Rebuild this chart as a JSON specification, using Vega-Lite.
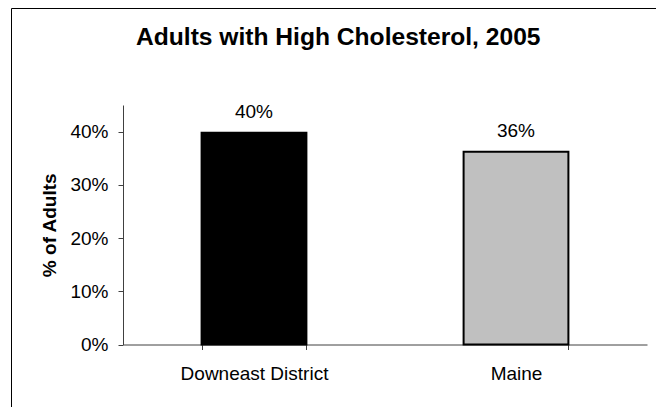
{
  "$schema": "https://vega.github.io/schema/vega-lite/v6.json",
  "width": 645,
  "height": 399,
  "autosize": {"type": "none"},
  "padding": {"left": 11, "top": 8, "right": 0, "bottom": 0},
  "background": "white",
  "config": {
    "view": {"stroke": null},
    "font": "Liberation Sans"
  },
  "title": {
    "text": "Adults with High Cholesterol, 2005",
    "fontSize": 24.6,
    "fontWeight": "bold",
    "font": "Liberation Sans",
    "color": "black",
    "anchor": "start",
    "frame": "group",
    "dx": 125,
    "offset": -62,
    "baseline": "alphabetic"
  },
  "data": {
    "values": [
      {"region": "Downeast District", "pct": 0.398},
      {"region": "Maine", "pct": 0.362}
    ]
  },
  "layer": [
    {
      "encoding": {
        "x": {
          "field": "region",
          "type": "nominal",
          "sort": null,
          "scale": {"range": [112, 636], "paddingInner": 0.6, "paddingOuter": 0.3},
          "axis": {
            "title": null,
            "orient": "bottom",
            "offset": -62.5,
            "tickBand": "extent",
            "tickSize": 5,
            "labelPadding": 15,
            "labelFontSize": 19,
            "labelColor": "black",
            "labelAngle": 0,
            "domainColor": "#404040",
            "tickColor": "#404040",
            "grid": false
          }
        },
        "y": {
          "field": "pct",
          "type": "quantitative",
          "scale": {"domain": [0, 0.45], "range": [336.5, 97], "nice": false, "zero": true},
          "axis": {
            "orient": "left",
            "offset": -112,
            "values": [0, 0.1, 0.2, 0.3, 0.4],
            "format": ".0%",
            "tickSize": 5,
            "labelPadding": 10,
            "labelFontSize": 19,
            "labelColor": "black",
            "domainColor": "#404040",
            "tickColor": "#404040",
            "title": "% of Adults",
            "titleFontSize": 19,
            "titleFontWeight": "bold",
            "titleColor": "black",
            "titlePadding": 10,
            "grid": false
          }
        }
      },
      "layer": [
        {
          "mark": {"type": "bar", "stroke": "black", "strokeWidth": 2},
          "encoding": {
            "color": {
              "field": "region",
              "type": "nominal",
              "scale": {"domain": ["Downeast District", "Maine"], "range": ["#000000", "#C0C0C0"]},
              "legend": null
            }
          }
        },
        {
          "mark": {"type": "text", "dy": -15, "baseline": "alphabetic", "fontSize": 19, "color": "black"},
          "encoding": {
            "text": {"field": "pct", "type": "quantitative", "format": ".0%"}
          }
        }
      ]
    },
    {
      "mark": {"type": "point", "opacity": 0},
      "encoding": {
        "x": {
          "field": "pct",
          "type": "quantitative",
          "scale": {"domain": [0, 1], "range": [0, 645], "nice": false},
          "axis": {"orient": "top", "offset": 0, "labels": false, "ticks": false, "title": null, "grid": false, "domainColor": "black"}
        },
        "y": {
          "field": "pct",
          "type": "quantitative",
          "scale": {"domain": [0, 1], "range": [399, 0], "nice": false},
          "axis": {"orient": "left", "offset": 0, "labels": false, "ticks": false, "title": null, "grid": false, "domainColor": "black"}
        }
      }
    }
  ],
  "resolve": {
    "scale": {"x": "independent", "y": "independent"},
    "axis": {"x": "independent", "y": "independent"}
  }
}
